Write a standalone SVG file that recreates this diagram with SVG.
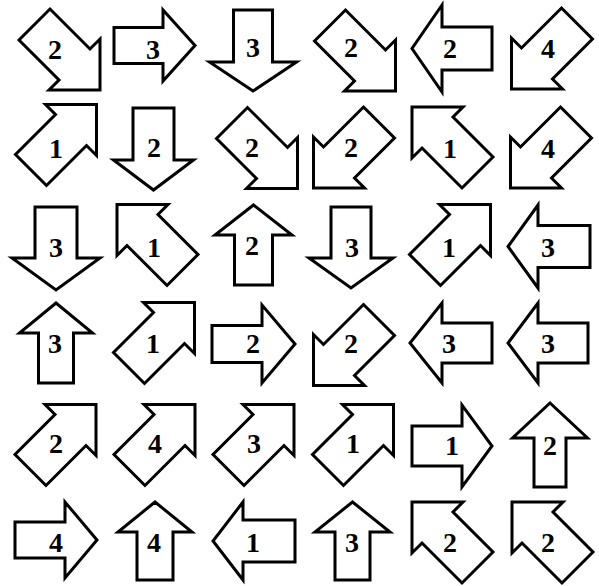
<svg xmlns="http://www.w3.org/2000/svg" xmlns:xlink="http://www.w3.org/1999/xlink" width="599" height="586" viewBox="0 0 599 586">
<style>
.a{fill:#fff;stroke:#000;stroke-width:3;stroke-linejoin:miter;stroke-miterlimit:10}
.t{font-family:"Liberation Serif","Times New Roman",serif;font-weight:bold;font-size:28px;text-anchor:middle;fill:#000}
</style>
<defs>
<polygon id="diag" class="a" points="-40.5,-9.5 -9.5,-40.5 30.5,-0.5 40.5,-10.5 40.5,40.5 -10.5,40.5 -0.5,30.5"/>
</defs>
<rect width="599" height="586" fill="#fff"/>
<!-- row 0 -->
<g id="r0c0"><use xlink:href="#diag" href="#diag" transform="translate(59.5,49.5)"/><text class="t" x="55" y="59">2</text></g>
<g id="r0c1"><polygon class="a" points="114,27.5 163,27.5 163,10 195,45.5 163,81 163,63.5 114,63.5"/><text class="t" x="153" y="59">3</text></g>
<g id="r0c2"><polygon class="a" points="233.5,10 233.5,62 209.5,62 253,91 296.5,62 272.5,62 272.5,10"/><text class="t" x="253" y="57">3</text></g>
<g id="r0c3"><use xlink:href="#diag" href="#diag" transform="translate(355,50.5)"/><text class="t" x="351" y="57">2</text></g>
<g id="r0c4"><polygon class="a" points="492,27 442,27 442,5 412,48.5 442,92 442,70 492,70"/><text class="t" x="450" y="58">2</text></g>
<g id="r0c5"><use xlink:href="#diag" href="#diag" transform="translate(552,48.5) rotate(90)"/><text class="t" x="548" y="58">4</text></g>
<!-- row 1 -->
<g id="r1c0"><use xlink:href="#diag" href="#diag" transform="translate(56,145) rotate(-90)"/><text class="t" x="56" y="158">1</text></g>
<g id="r1c1"><polygon class="a" points="133,108 133,160 113.5,160 153.5,190 193.5,160 174,160 174,108"/><text class="t" x="154" y="157">2</text></g>
<g id="r1c2"><use xlink:href="#diag" href="#diag" transform="translate(257,148)"/><text class="t" x="252" y="157">2</text></g>
<g id="r1c3"><use xlink:href="#diag" href="#diag" transform="translate(354,147.5) rotate(90)"/><text class="t" x="351" y="157">2</text></g>
<g id="r1c4"><use xlink:href="#diag" href="#diag" transform="translate(452.5,147.5) rotate(180)"/><text class="t" x="450" y="158">1</text></g>
<g id="r1c5"><use xlink:href="#diag" href="#diag" transform="translate(551,147.5) rotate(90)"/><text class="t" x="548" y="158">4</text></g>
<!-- row 2 -->
<g id="r2c0"><polygon class="a" points="35,207 35,258 12,258 56,290 100,258 77,258 77,207"/><text class="t" x="56" y="257">3</text></g>
<g id="r2c1"><use xlink:href="#diag" href="#diag" transform="translate(157.5,245) rotate(180)"/><text class="t" x="154" y="257">1</text></g>
<g id="r2c2"><polygon class="a" points="234.5,285 234.5,235 215,235 253.5,205 292,235 272.5,235 272.5,285"/><text class="t" x="252" y="255">2</text></g>
<g id="r2c3"><polygon class="a" points="331,207 331,258 309,258 351,288 393,258 371,258 371,207"/><text class="t" x="352" y="257">3</text></g>
<g id="r2c4"><use xlink:href="#diag" href="#diag" transform="translate(450,245) rotate(-90)"/><text class="t" x="449" y="257">1</text></g>
<g id="r2c5"><polygon class="a" points="590,225.5 538,225.5 538,205 508,246.5 538,288 538,267.5 590,267.5"/><text class="t" x="548" y="257">3</text></g>
<!-- row 3 -->
<g id="r3c0"><polygon class="a" points="38.5,383 38.5,333 19.5,333 56,303 92.5,333 73.5,333 73.5,383"/><text class="t" x="55" y="353">3</text></g>
<g id="r3c1"><use xlink:href="#diag" href="#diag" transform="translate(154,343) rotate(-90)"/><text class="t" x="153" y="353">1</text></g>
<g id="r3c2"><polygon class="a" points="212,325.5 262,325.5 262,305 295,344 262,383 262,362.5 212,362.5"/><text class="t" x="253" y="353">2</text></g>
<g id="r3c3"><use xlink:href="#diag" href="#diag" transform="translate(354,345) rotate(90)"/><text class="t" x="351" y="353">2</text></g>
<g id="r3c4"><polygon class="a" points="492,323 442,323 442,303 410,343 442,383 442,363 492,363"/><text class="t" x="449" y="353">3</text></g>
<g id="r3c5"><polygon class="a" points="588,323 538,323 538,303 508,343 538,383 538,363 588,363"/><text class="t" x="548" y="353">3</text></g>
<!-- row 4 -->
<g id="r4c0"><use xlink:href="#diag" href="#diag" transform="translate(55.5,445) rotate(-90)"/><text class="t" x="56" y="453">2</text></g>
<g id="r4c1"><use xlink:href="#diag" href="#diag" transform="translate(154.5,445) rotate(-90)"/><text class="t" x="155" y="453">4</text></g>
<g id="r4c2"><use xlink:href="#diag" href="#diag" transform="translate(253.5,445) rotate(-90)"/><text class="t" x="254" y="453">3</text></g>
<g id="r4c3"><use xlink:href="#diag" href="#diag" transform="translate(353,445) rotate(-90)"/><text class="t" x="353" y="453">1</text></g>
<g id="r4c4"><polygon class="a" points="412,426 462,426 462,405 492,446 462,487 462,466 412,466"/><text class="t" x="452" y="455">1</text></g>
<g id="r4c5"><polygon class="a" points="534,487 534,438 512.5,438 550,403 587.5,438 566,438 566,487"/><text class="t" x="550" y="455">2</text></g>
<!-- row 5 -->
<g id="r5c0"><polygon class="a" points="15,522 65,522 65,502 97,540 65,578 65,558 15,558"/><text class="t" x="56" y="552">4</text></g>
<g id="r5c1"><polygon class="a" points="137,580 137,532 118,532 155,502 192,532 173,532 173,580"/><text class="t" x="154" y="552">4</text></g>
<g id="r5c2"><polygon class="a" points="295,520 243,520 243,502 213,541 243,580 243,562 295,562"/><text class="t" x="253" y="552">1</text></g>
<g id="r5c3"><polygon class="a" points="335,580 335,532 315,532 352.5,502 390,532 370,532 370,580"/><text class="t" x="352" y="552">3</text></g>
<g id="r5c4"><use xlink:href="#diag" href="#diag" transform="translate(452.5,542.5) rotate(180)"/><text class="t" x="450" y="552">2</text></g>
<g id="r5c5"><use xlink:href="#diag" href="#diag" transform="translate(552.5,542.5) rotate(180)"/><text class="t" x="548" y="552">2</text></g>
</svg>
